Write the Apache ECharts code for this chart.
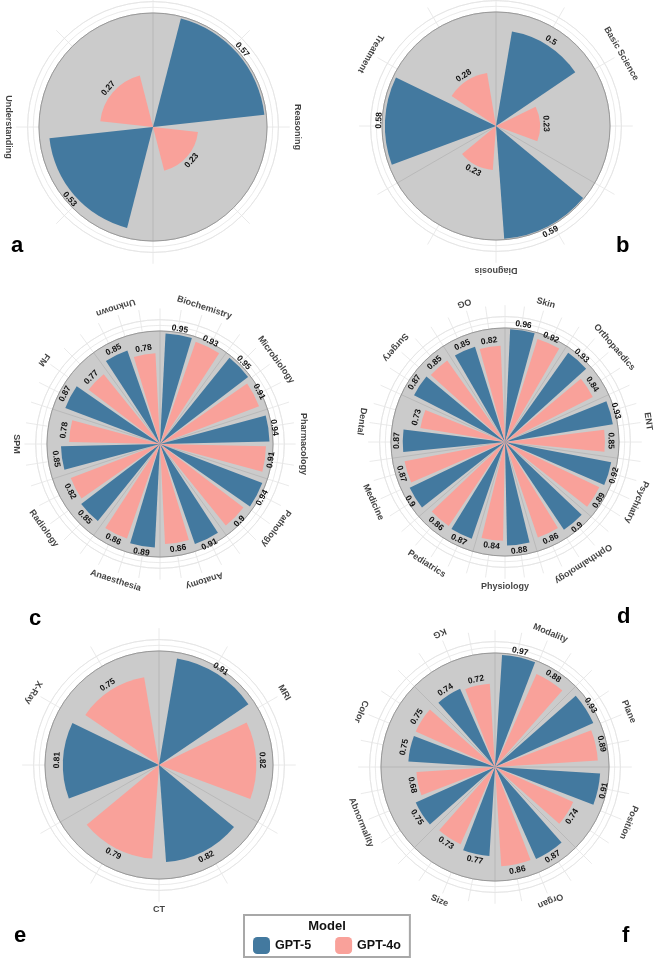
<!DOCTYPE html>
<html>
<head>
<meta charset="utf-8">
<script src="https://cdn.jsdelivr.net/npm/echarts@6/dist/echarts.min.js"></script>
<style>
  html, body { margin: 0; padding: 0; background: #fff; }
  #chart { width: 654px; height: 960px; }
</style>
</head>
<body>
<div id="chart"></div>
<script>
// data
const catA = ['Reasoning', 'Understanding'];
const gpt5A = [0.57, 0.53];
const gpt4oA = [0.23, 0.27];

const catB = ['Basic Science', 'Diagnosis', 'Treatment'];
const gpt5B = [0.5, 0.59, 0.58];
const gpt4oB = [0.23, 0.23, 0.28];

const catC = ['Biochemistry', 'Microbiology', 'Pharmacology', 'Pathology', 'Anatomy', 'Anaesthesia', 'Radiology', 'SPM', 'FM', 'Unknown'];
const gpt5C = [0.95, 0.95, 0.94, 0.94, 0.91, 0.89, 0.85, 0.85, 0.87, 0.85];
const gpt4oC = [0.93, 0.91, 0.91, 0.9, 0.86, 0.86, 0.82, 0.78, 0.77, 0.78];

const catD = ['Skin', 'Orthopaedics', 'ENT', 'Psychiatry', 'Ophthalmology', 'Physiology', 'Pediatrics', 'Medicine', 'Dental', 'Surgery', 'OG'];
const gpt5D = [0.96, 0.93, 0.93, 0.92, 0.9, 0.88, 0.87, 0.9, 0.87, 0.87, 0.85];
const gpt4oD = [0.92, 0.84, 0.85, 0.89, 0.86, 0.84, 0.86, 0.87, 0.73, 0.85, 0.82];

const catE = ['MRI', 'CT', 'X-Ray'];
const gpt5E = [0.91, 0.82, 0.81];
const gpt4oE = [0.82, 0.79, 0.75];

const catF = ['Modality', 'Plane', 'Position', 'Organ', 'Size', 'Abnormality', 'Color', 'KG'];
const gpt5F = [0.97, 0.93, 0.91, 0.87, 0.77, 0.75, 0.75, 0.74];
const gpt4oF = [0.88, 0.89, 0.74, 0.86, 0.73, 0.68, 0.75, 0.72];

const seriesNames = ['GPT-5', 'GPT-4o'];

// layout of the six panels
const panels = [
  { cats: catA, g5: gpt5A, g4: gpt4oA, center: [153, 127], r: 114, max: 0.58, ring: 0.05, letter: 'a', lp: [17, 247] },
  { cats: catB, g5: gpt5B, g4: gpt4oB, center: [496, 126], r: 114, max: 0.595, ring: 0.1, letter: 'b', lp: [622, 247], flip180: true },
  { cats: catC, g5: gpt5C, g4: gpt4oC, center: [160, 444], r: 113, max: 0.97, ring: 0.05, letter: 'c', lp: [35, 620] },
  { cats: catD, g5: gpt5D, g4: gpt4oD, center: [505, 442], r: 114, max: 0.97, ring: 0.05, letter: 'd', lp: [623, 618] },
  { cats: catE, g5: gpt5E, g4: gpt4oE, center: [159, 765], r: 114, max: 0.96, ring: 0.05, letter: 'e', lp: [20, 937] },
  { cats: catF, g5: gpt5F, g4: gpt4oF, center: [495, 767], r: 114, max: 0.985, ring: 0.05, letter: 'f', lp: [628, 937] }
];

const BLUE = '#43799f';
const PINK = '#f9a19a';
const FONT = '"Liberation Sans", Arial, sans-serif';
const CAT_GAP = 0.16;
const BAR_GAP = 0.18;
const RAD = Math.PI / 180;

// clockwise angle from top of the middle of a dodged bar
const barMid = (i, s, n) => {
  const cw = 360 / n;
  const w = cw * (1 - CAT_GAP) / (2 + BAR_GAP);
  return i * cw + cw * CAT_GAP / 2 + w / 2 + s * w * (1 + BAR_GAP);
}

// value labels stay upright and sit outside the bar end
// (polar bar label rotation is taken in radians here)
const valueLabel = (theta) => {
  if (theta > 90 && theta < 270) {
    return { rotate: -(theta - 180) * RAD, verticalAlign: 'top' };
  }
  let t = theta >= 270 ? theta - 360 : theta;
  return { rotate: -t * RAD, verticalAlign: 'bottom' };
}

// category labels: tangential, turned by the angle modulo 180
const catRotate = (theta, flip180) => {
  let t = theta;
  if (t > 180 || (t === 180 && !flip180)) t -= 180;
  return -t;
}

let polar = [], angleAxis = [], radiusAxis = [], series = [], graphic = [];

panels.forEach((p, k) => {
  const n = p.cats.length;
  const base = k * 3;
  // light spokes outside the disc
  polar.push({ center: p.center, radius: p.r * 1.2 });
  angleAxis.push({
    polarIndex: base, type: 'value', min: 0, max: 360, interval: 360 / (4 * n),
    startAngle: 90, z: 0,
    axisLine: { show: false }, axisTick: { show: false }, axisLabel: { show: false },
    splitLine: { show: true, lineStyle: { color: '#e4e4e4', width: 0.8 } }
  });
  radiusAxis.push({
    polarIndex: base, type: 'value', min: 0, max: 1, z: 0,
    axisLine: { show: false }, axisTick: { show: false }, axisLabel: { show: false },
    splitLine: { show: false }
  });
  // light circles outside the disc
  polar.push({ center: p.center, radius: p.r * 1.1 });
  angleAxis.push({
    polarIndex: base + 1, type: 'value', min: 0, max: 360, startAngle: 90, z: 0,
    axisLine: { show: true, lineStyle: { color: '#e4e4e4', width: 0.8 } },
    axisTick: { show: false }, axisLabel: { show: false }, splitLine: { show: false }
  });
  radiusAxis.push({
    polarIndex: base + 1, type: 'value', min: 0, max: 1.1, interval: 0.05, z: 0,
    axisLine: { show: false }, axisTick: { show: false }, axisLabel: { show: false },
    splitLine: { show: true, lineStyle: { color: '#e4e4e4', width: 0.8 } }
  });
  // gray disc with the bars
  polar.push({ center: p.center, radius: p.r });
  angleAxis.push({
    polarIndex: base + 2, type: 'category', data: p.cats, startAngle: 90, clockwise: true, z: 1,
    axisLine: { show: true, lineStyle: { color: '#999999', width: 1 } },
    axisTick: { show: false }, axisLabel: { show: false },
    splitLine: { show: true, lineStyle: { color: '#adadad', width: 0.6 } }
  });
  radiusAxis.push({
    polarIndex: base + 2, type: 'value', min: 0, max: p.max, interval: p.ring, z: 1,
    axisLine: { show: false }, axisTick: { show: false }, axisLabel: { show: false },
    splitLine: { show: true, lineStyle: { color: '#b6b6b6', width: 0.6 } },
    splitArea: { show: true, areaStyle: { color: ['#cbcbcb'] } }
  });

  [p.g5, p.g4].forEach((vals, s) => {
    series.push({
      type: 'bar', name: seriesNames[s], coordinateSystem: 'polar', polarIndex: base + 2,
      barCategoryGap: (CAT_GAP * 100) + '%', barGap: (BAR_GAP * 100) + '%',
      itemStyle: { color: s === 0 ? BLUE : PINK },
      label: {
        show: true, position: 'end', distance: 1.5, fontSize: 8.5, fontWeight: 'bold',
        color: '#111', fontFamily: FONT, formatter: (d) => String(d.value)
      },
      data: vals.map((v, i) => ({ value: v, label: valueLabel(barMid(i, s, n)) })),
      z: 3, silent: true
    });
  });

  // category names around the disc
  series.push({
    type: 'scatter', coordinateSystem: 'polar', polarIndex: base + 2, clip: false,
    symbolSize: 1, itemStyle: { color: 'rgba(0,0,0,0)' }, silent: true, z: 4,
    label: {
      show: true, position: 'inside', fontSize: 9, fontWeight: 'bold', color: '#111',
      fontFamily: FONT, formatter: (d) => d.value[1]
    },
    data: p.cats.map((c, i) => {
      const theta = (i + 0.5) * 360 / n;
      return { value: [p.max * 1.27, c], label: { rotate: catRotate(theta, p.flip180) } };
    })
  });

  graphic.push({
    type: 'text', left: p.lp[0] - 6, top: p.lp[1] - 12,
    style: { text: p.letter, font: 'bold 22px ' + FONT, fill: '#000' }
  });
});

graphic.push({
  type: 'text', left: 'center', top: 920,
  style: { text: 'Model', font: 'bold 13px ' + FONT, fill: '#111' }
});

const chart = echarts.init(document.getElementById('chart'), null, { renderer: 'canvas' });
chart.setOption({
  backgroundColor: '#fff',
  animation: false,
  polar: polar,
  angleAxis: angleAxis,
  radiusAxis: radiusAxis,
  legend: {
    data: seriesNames, left: 244, top: 915, icon: 'roundRect',
    itemWidth: 17, itemHeight: 17, itemGap: 24,
    padding: [22, 9, 3, 9], borderColor: '#a8a8a8', borderWidth: 2,
    textStyle: { fontSize: 12.5, fontWeight: 'bold', color: '#111', fontFamily: FONT }
  },
  graphic: graphic,
  series: series
});
</script>
</body>
</html>
